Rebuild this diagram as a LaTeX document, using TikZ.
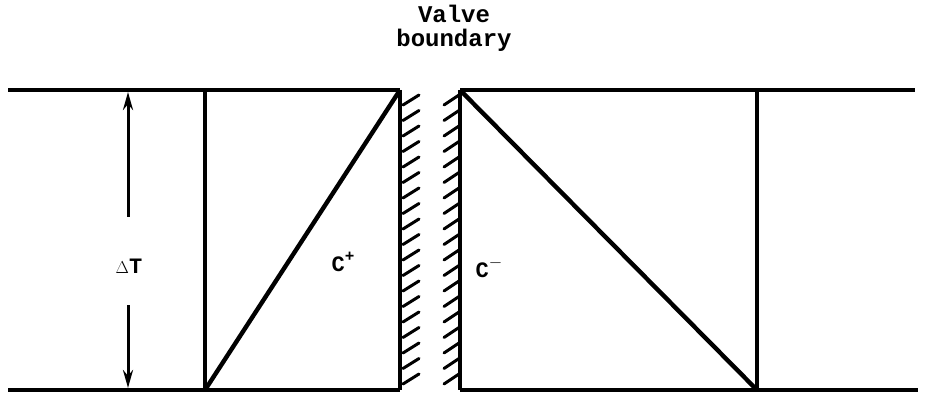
\documentclass[tikz,border=0pt]{standalone}
\usepackage{fontspec}
\setmonofont{Liberation Mono}
\usetikzlibrary{arrows.meta}
\begin{document}
\begin{tikzpicture}[x=1pt,y=-1pt,
  thick line/.style={line width=4.4pt},
  dimline/.style={line width=3pt},
  hatch/.style={line width=3pt, line cap=round},
  lbl/.style={font=\ttfamily\bfseries\fontsize{24}{26}\selectfont, inner sep=0pt}]
\useasboundingbox (0,0) rectangle (936,403);
% coordinates
\coordinate (TL0) at (8,90);
\coordinate (TL1) at (400,90);
\coordinate (BL0) at (8,390);
\coordinate (BL1) at (400,390);
\coordinate (TR0) at (460,90);
\coordinate (TR1) at (915,90);
\coordinate (BR0) at (460,390);
\coordinate (BR1) at (918,390);
\coordinate (LVt) at (205,90);
\coordinate (LVb) at (205,390);
\coordinate (RVt) at (757,90);
\coordinate (RVb) at (757,390);
% horizontals
\draw[thick line] (TL0) -- (TL1);
\draw[thick line] (BL0) -- (BL1);
\draw[thick line] (TR0) -- (TR1);
\draw[thick line] (BR0) -- (BR1);
% verticals
\draw[thick line] (LVt) -- (LVb);
\draw[thick line] (RVt) -- (RVb);
\draw[thick line] (TL1) -- (BL1);
\draw[thick line] (TR0) -- (BR0);
% diagonals
\draw[thick line] (LVb) -- (TL1);
\draw[thick line] (TR0) -- (RVb);
% hatching
\foreach \y in {100,115.5,...,385} {
  \draw[hatch] (403,\y+5) -- (419,\y-5);
  \draw[hatch] (444,\y+5) -- (459,\y-5);
}
% dimension
\node[lbl,font=\ttfamily\bfseries\fontsize{22}{24}\selectfont] (dT) at (129,266) {{\fontsize{16}{18}\selectfont$\Delta$}T};
\coordinate (DA) at (128,92);
\coordinate (DB) at (128,388);
\draw[dimline,-{Stealth[length=18pt,width=10pt]}] (dT.north) ++(-1,-42) -- (DA);
\draw[dimline,-{Stealth[length=18pt,width=10pt]}] (dT.south) ++(-1,32) -- (DB);
% labels
\node[lbl,font=\ttfamily\bfseries\fontsize{22}{24}\selectfont] (cp) at (343,262) {C\raisebox{0.45em}{\fontsize{16}{18}\selectfont+}};
\node[lbl,font=\ttfamily\bfseries\fontsize{22}{24}\selectfont] (cm) at (489,268) {C\raisebox{0.45em}{\fontsize{16}{18}\selectfont$-$}};
\node[lbl,align=center] (vb) at (454,28) {Valve\\[-2pt]boundary};
\end{tikzpicture}
\end{document}
